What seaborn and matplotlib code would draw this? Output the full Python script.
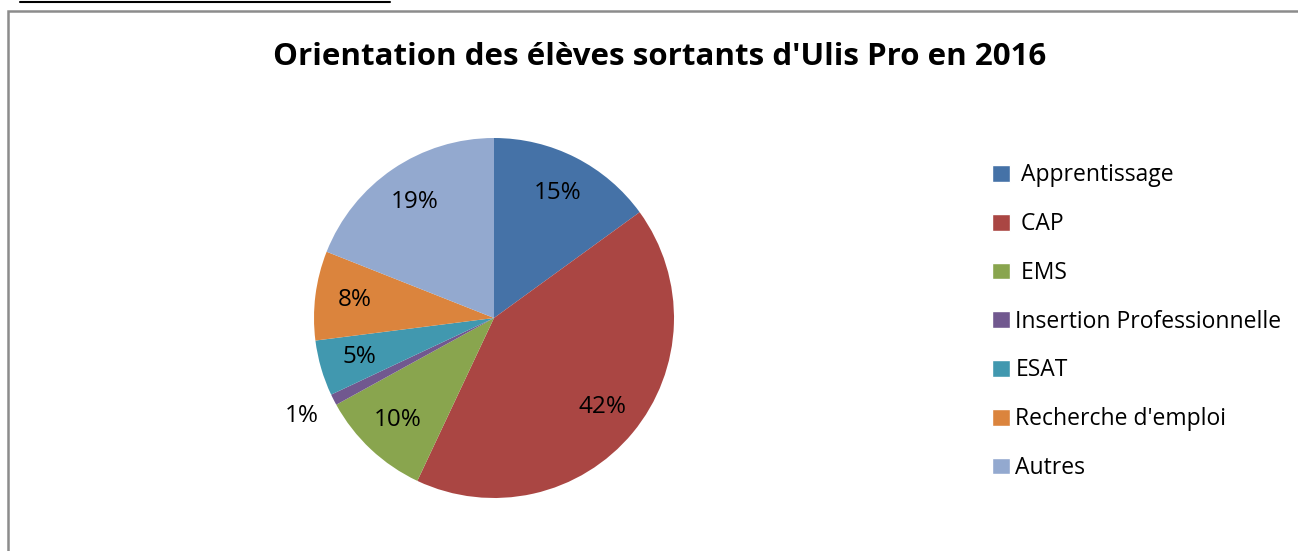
import matplotlib
matplotlib.use('Agg')
import matplotlib.pyplot as plt
import seaborn as sns
import numpy as np
from matplotlib.patches import Rectangle
from matplotlib.lines import Line2D

categories = [' Apprentissage', ' CAP', ' EMS', 'Insertion Professionnelle',
              'ESAT', "Recherche d'emploi", 'Autres']
values = [15, 42, 10, 1, 5, 8, 19]
colors = ['#4572A7', '#AA4643', '#89A54E', '#71588F', '#4198AF', '#DB843D', '#93A9CF']

sns.set_theme(style='white')
plt.rcParams['font.family'] = ['Open Sans', 'DejaVu Sans']
plt.rcParams['text.color'] = 'black'
palette = sns.color_palette(colors)

W, H = 1298, 551
fig = plt.figure(figsize=(W / 100, H / 100), dpi=100)

# cadre gris + trait noir en haut
fig.add_artist(Rectangle((8 / W, -0.05), 1.2, 1 - 11 / H + 0.05, transform=fig.transFigure,
                         fill=False, edgecolor='#8c8c8c', lw=1.8))
fig.add_artist(Line2D([20 / W, 390 / W], [1 - 1.5 / H, 1 - 1.5 / H], transform=fig.transFigure,
                      color='black', lw=1.5))

cx, cy, r = 494, 318, 180
ax = fig.add_axes([(cx - r) / W, (H - cy - r) / H, 2 * r / W, 2 * r / H])
wedges, _ = ax.pie(values, colors=palette, startangle=90, counterclock=False,
                   wedgeprops=dict(linewidth=0))
ax.set_xlim(-1, 1)
ax.set_ylim(-1, 1)

total = sum(values)
cum = 0
for v in values:
    mid = 90 - (cum + v / 2) / total * 360
    cum += v
    dist = 0.78 if v >= 3 else 1.2
    ang = np.deg2rad(mid)
    ax.text(dist * np.cos(ang), dist * np.sin(ang), f'{v}%', ha='center', va='center',
            fontsize=17.5, color='black')

fig.text(660 / W, 1 - 57 / H, "Orientation des élèves sortants d'Ulis Pro en 2016",
         ha='center', va='center', fontsize=22.5, fontweight='bold', color='black')

handles = [Rectangle((0, 0), 1, 1, facecolor=c) for c in palette]
leg = fig.legend(handles, categories, loc='upper left', bbox_to_anchor=(981 / W, 1 - 152 / H),
                 frameon=False, fontsize=16.5, handlelength=0.75, handleheight=0.75,
                 handletextpad=0.25, labelspacing=1.08, borderpad=0)
for t in leg.get_texts():
    t.set_color('black')

fig.savefig('out.png', dpi=100)
